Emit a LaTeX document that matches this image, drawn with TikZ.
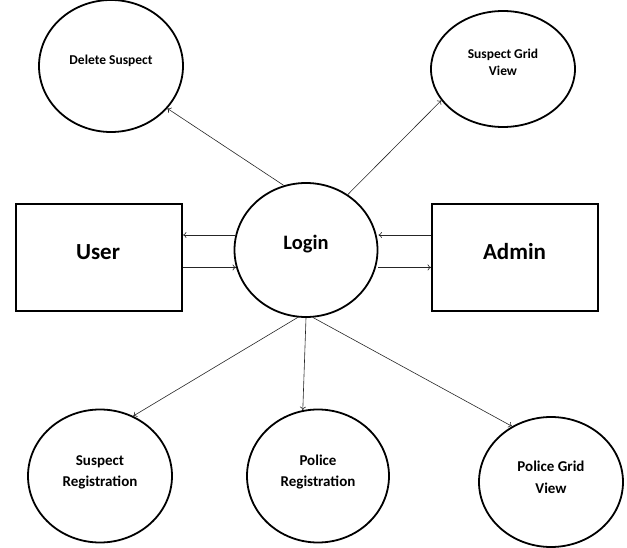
\documentclass[tikz,border=0pt]{standalone}
\usepackage{fontspec}
\setmainfont{Carlito}
\usetikzlibrary{shapes.geometric,arrows.meta}
\begin{document}
\begin{tikzpicture}[x=1pt,y=-1pt,
  bub/.style={ellipse,draw,line width=1.8pt,inner sep=0pt},
  box/.style={rectangle,draw,line width=1.8pt,inner sep=0pt},
  lbl/.style={font=\bfseries,align=center,inner sep=0pt,anchor=base},
  conn/.style={line width=0.6pt,draw=black!85,-{To[length=3.5pt,width=6pt]}}]
\useasboundingbox (0,0) rectangle (627,548);
% nodes
\node[bub,minimum width=144pt,minimum height=132pt] (del) at (111,66) {};
\node[lbl,font=\bfseries\fontsize{13.5}{16}\selectfont] (delt) at (111,64.3) {Delete Suspect};
\node[bub,minimum width=144pt,minimum height=116pt] (sgv) at (503,69) {};
\node[lbl,font=\bfseries\fontsize{13.5}{16.7}\selectfont] (sgvt) at (503,75.7) {Suspect Grid\\View};
\node[bub,minimum width=143pt,minimum height=134pt] (login) at (306,250) {};
\node[lbl,font=\bfseries\fontsize{20.5}{24}\selectfont] (logint) at (306,250) {Login};
\node[box,minimum width=166pt,minimum height=107pt] (user) at (99,257.5) {};
\node[lbl,font=\bfseries\fontsize{23}{26}\selectfont] (usert) at (98,259.5) {User};
\node[box,minimum width=166pt,minimum height=107pt] (admin) at (515,257.5) {};
\node[lbl,font=\bfseries\fontsize{23}{26}\selectfont] (admint) at (514.5,259.5) {Admin};
\node[bub,minimum width=144pt,minimum height=133pt] (sr) at (100,476) {};
\node[lbl,font=\bfseries\fontsize{15}{20.5}\selectfont] (srt) at (100,486) {Suspect\\Registration};
\node[bub,minimum width=142pt,minimum height=133pt] (pr) at (318,476) {};
\node[lbl,font=\bfseries\fontsize{15}{20.5}\selectfont] (prt) at (318,486) {Police\\Registration};
\node[bub,minimum width=144pt,minimum height=130pt] (pgv) at (551,482) {};
\node[lbl,font=\bfseries\fontsize{15}{21.6}\selectfont] (pgvt) at (551,493.3) {Police Grid\\View};
% connectors
\draw[conn] (login.109) -- (del.-37);
\draw[conn] (login.53) -- (sgv.207);
\draw[conn] (login.263) -- (sr.61);
\draw[conn] (login.-90) -- (pr.103);
\draw[conn] (login.-84) -- (pgv.125);
\draw[conn] (login.168) -- (login.168 -| user.east);
\draw[conn] (login.194.6 -| user.east) -- (login.194.6);
\draw[conn] (login.168 -| admin.west) -- (login.168 -| login.east);
\draw[conn] (login.-14 -| login.east) -- (login.-14 -| admin.west);
\end{tikzpicture}
\end{document}
